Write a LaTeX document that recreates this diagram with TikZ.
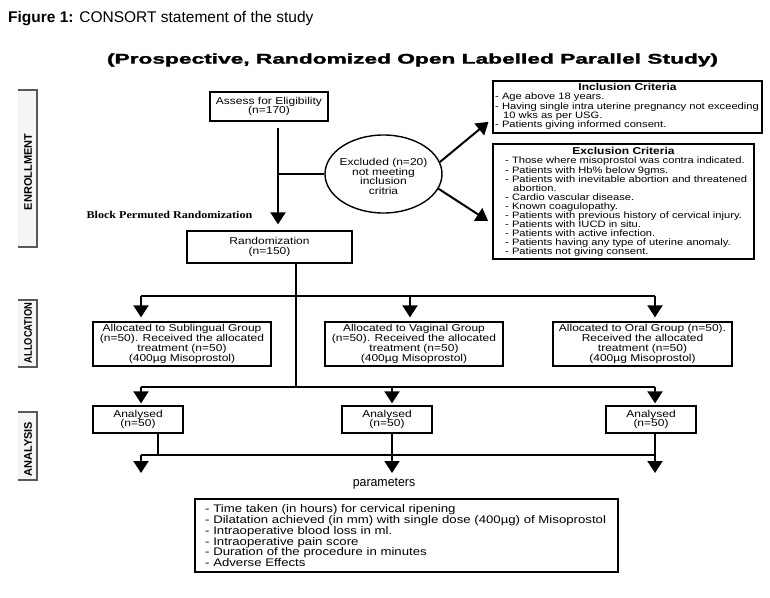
\documentclass[tikz,border=0pt]{standalone}
\usepackage{fontspec}
\usepackage{graphicx}
\setmainfont{Liberation Sans}
\newfontfamily\bx[FakeStretch=1.2]{Liberation Sans}
\newfontfamily\heavy[BoldFeatures={FakeBold=1.6}]{Liberation Sans}
\newfontfamily\serifx[FakeStretch=1.15]{Liberation Serif}
\usetikzlibrary{arrows.meta,shapes.geometric,calc}
\begin{document}
\begin{tikzpicture}[x=1pt,y=-1pt,
  box/.style={draw, line width=1.3pt, inner sep=0pt, align=center,
    font={\bx\fontsize{10}{9.8}\selectfont}},
  ln/.style={line width=2pt},
  thinln/.style={line width=1.4pt},
  arr/.style={line width=2pt, -{Triangle[width=15pt,length=12pt]}},
  listtxt/.style={anchor=north west, inner sep=0pt, align=left,
    font={\bx\fontsize{9.3}{9.1}\selectfont}},
  hdr/.style={inner sep=0pt, font={\bx\fontsize{10}{10}\selectfont\bfseries}},
  sidebox/.style={fill=gray!8, inner sep=0pt},
  sideline/.style={line width=1.5pt, draw=black!65},
  sidetxt/.style={rotate=90, inner sep=0pt, font={\fontsize{11}{11}\selectfont\bfseries}}
]
\useasboundingbox (0,0) rectangle (770,597);

% title
\node[anchor=base west, inner sep=0pt, font={\fontsize{15.5}{16}\selectfont}] (title) at (8,22.5)
  {\textbf{Figure 1:} CONSORT statement of the study};
\node[inner sep=0pt] (subtitle) at (412.5,60)
  {\resizebox{611pt}{\height}{\heavy\fontsize{14}{14}\selectfont\bfseries (Prospective, Randomized Open Labelled Parallel Study)}};

% side labels
\node[sidebox, minimum width=19, minimum height=157] (enr) at (27.5,168.5) {};
\draw[sideline] (enr.north west) -- (enr.north east) -- (enr.south east) -- (enr.south west);
\node[sidetxt] (enrt) at (28,172) {ENROLLMENT};
\node[sidebox, minimum width=19, minimum height=67] (alc) at (27.5,333.5) {};
\draw[sideline] (alc.north west) -- (alc.north east) -- (alc.south east) -- (alc.south west);
\node[sidetxt] (alct) at (28,333) {\scalebox{0.85}[1]{ALLOCATION}};
\node[sidebox, minimum width=19, minimum height=68] (ana) at (27.5,446) {};
\draw[sideline] (ana.north west) -- (ana.north east) -- (ana.south east) -- (ana.south west);
\node[sidetxt] (anat) at (28,449) {ANALYSIS};

% enrollment
\node[box, minimum width=118, minimum height=29] (assess) at (269,106.5)
  {Assess for Eligibility\\(n=170)};
\node[box, minimum width=165, minimum height=32] (rand) at (269.5,247)
  {Randomization\\(n=150)};
\node[inner sep=0pt, font={\serifx\fontsize{10.5}{10.5}\selectfont\bfseries}] (bpr) at (169.5,215)
  {Block Permuted Randomization};

\node[draw, ellipse, line width=1.4pt, minimum width=117, minimum height=78, inner sep=0pt] (excl) at (383.5,174) {};
\node[align=center, inner sep=0pt, font={\bx\fontsize{10}{9.8}\selectfont}] (exclt) at (383.5,176.5)
  {Excluded (n=20)\\not meeting\\inclusion\\critria};

\node[draw, line width=1.3pt, minimum width=269, minimum height=52, inner sep=0pt] (inc) at (627.5,107) {};
\node[hdr] (inch) at (627.5,87) {Inclusion Criteria};
\node[listtxt] (incl) at (495,93)
  {- Age above 18 years.\\
   - Having single intra uterine pregnancy not exceeding\\
   \hspace*{8pt}10 wks as per USG.\\
   - Patients giving informed consent.};

\node[draw, line width=1.3pt, minimum width=261, minimum height=115, inner sep=0pt] (exc) at (623.5,201.5) {};
\node[hdr] (exch) at (623.5,151) {Exclusion Criteria};
\node[listtxt] (excll) at (505,157)
  {- Those where misoprostol was contra indicated.\\
   - Patients with Hb\% below 9gms.\\
   - Patients with inevitable abortion and threatened\\
   \hspace*{8pt}abortion.\\
   - Cardio vascular disease.\\
   - Known coagulopathy.\\
   - Patients with previous history of cervical injury.\\
   - Patients with IUCD in situ.\\
   - Patients with active infection.\\
   - Patients having any type of uterine anomaly.\\
   - Patients not giving consent.};

% allocation
\node[box, minimum width=178, minimum height=44] (sub) at (182,344)
  {Allocated to Sublingual Group\\(n=50). Received the allocated\\treatment (n=50)\\(400µg Misoprostol)};
\node[box, minimum width=178, minimum height=44] (vag) at (414,344)
  {Allocated to Vaginal Group\\(n=50). Received the allocated\\treatment (n=50)\\(400µg Misoprostol)};
\node[box, minimum width=179, minimum height=44] (oral) at (642.5,344)
  {Allocated to Oral Group (n=50).\\Received the allocated\\treatment (n=50)\\(400µg Misoprostol)};

% analysis
\node[box, minimum width=90, minimum height=27] (an1) at (138,419.5) {Analysed\\(n=50)};
\node[box, minimum width=90, minimum height=27] (an2) at (387,419.5) {Analysed\\(n=50)};
\node[box, minimum width=90, minimum height=27] (an3) at (651,419.5) {Analysed\\(n=50)};

\node[inner sep=0pt, font={\fontsize{13}{13}\selectfont}] (param) at (384,484)
  {\scalebox{0.95}[1]{parameters}};
\node[draw, line width=1.3pt, minimum width=423, minimum height=73, inner sep=0pt] (pbox) at (406.5,535.5) {};
\node[anchor=north west, inner sep=0pt, align=left, font={\bx\fontsize{11}{10.8}\selectfont}] (plist) at (205,504.5)
  {- Time taken (in hours) for cervical ripening\\
   - Dilatation achieved (in mm) with single dose (400µg) of Misoprostol\\
   - Intraoperative blood loss in ml.\\
   - Intraoperative pain score\\
   - Duration of the procedure in minutes\\
   - Adverse Effects};

% coordinates
\coordinate (m) at (278,150);
\coordinate (b) at (278,174);
\coordinate (t1) at (296,296);
\coordinate (t2) at (296,387);
\coordinate (h1L) at (141,296);
\coordinate (h1M) at (410,296);
\coordinate (h1R) at (655,296);
\coordinate (h2L) at (141,387);
\coordinate (h2M) at (392,387);
\coordinate (h2R) at (655,387);
\coordinate (h3L) at (141,455);
\coordinate (c158) at (158,455);
\coordinate (h3M) at (392,455);
\coordinate (h3R) at (655,455);
\coordinate (e1) at (141,473);
\coordinate (e2) at (392,473);
\coordinate (e3) at (655,473);

% connectors
\draw[arr, shorten <=6pt, shorten >=6pt] (assess.south -| m) -- (rand.north -| m);
\draw[thinln] (b) -- (excl.west);
\draw[arr, shorten >=5pt] (excl.12) -- ($(inc.south west)+(0,-15)$);
\draw[arr, shorten >=5pt] (excl.-15) -- ($(exc.south west)+(0,-36)$);

\draw[ln] (rand.south -| t1) -- (t2);
\draw[ln] (h1L) -- (h1R);
\draw[arr, shorten >=4pt] (h1L) -- (sub.north -| h1L);
\draw[arr, shorten >=4pt] (h1M) -- (vag.north -| h1M);
\draw[arr, shorten >=4pt] (h1R) -- (oral.north -| h1R);

\draw[ln] (h2L) -- (h2R);
\draw[arr, shorten >=2pt] (h2L) -- (an1.north -| h2L);
\draw[arr, shorten >=2pt] (h2M) -- (an2.north -| h2M);
\draw[arr, shorten >=2pt] (h2R) -- (an3.north -| h2R);

\draw[ln] (an1.south -| c158) -- (c158);
\draw[ln] (an2.south -| h3M) -- (h3M);
\draw[ln] (an3.south -| h3R) -- (h3R);
\draw[ln] (h3L) -- (h3R);
\draw[arr] (h3L) -- (e1);
\draw[arr] (h3M) -- (e2);
\draw[arr] (h3R) -- (e3);
\end{tikzpicture}
\end{document}
